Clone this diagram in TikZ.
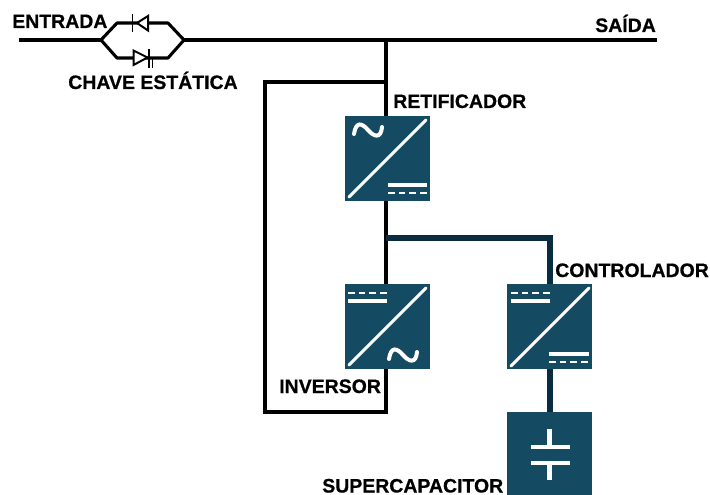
\documentclass[tikz,border=0pt]{standalone}
\usepackage{fontspec}
\setmainfont[BoldFeatures={FakeBold=0.6}]{Liberation Sans}
\definecolor{boxc}{HTML}{154A63}
\definecolor{wirec}{HTML}{0A2C40}
\tikzset{x=0.75pt,y=-0.75pt,
 conv/.style={draw=none,fill=boxc,minimum size=63.75pt,inner sep=0pt,outer sep=0pt},
 wire/.style={line width=3pt,black,line cap=butt,line join=miter},
 twire/.style={line width=3.8pt,wirec},
 switch wire/.style={line width=2.3pt,black,line join=round},
 diodeb/.style={line width=1.5pt,black,fill=white,line join=miter},
 diag/.style={white,line width=2.2pt,line cap=round},
 tilde/.style={white,line width=3pt,line cap=round},
 symf/.style={white,line width=2.6pt},
 symd/.style={white,line width=1.4pt,dash pattern=on 5pt off 3pt},
 capv/.style={white,line width=3.4pt},
 lab/.style={font=\bfseries\fontsize{14.6}{16}\selectfont,inner sep=0pt,anchor=base west,black}}
\begin{document}
\begin{tikzpicture}
\useasboundingbox (0,0) rectangle (710,495);
% converters
\node[conv] (ret) at (387.5,158.5) {};
\node[conv] (inv) at (387.5,326.5) {};
\node[conv] (ctl) at (549.5,326.5) {};
\node[conv,minimum height=62.5pt] (sup) at (549.5,453.5) {};
% junctions
\coordinate (in) at (19,40);
\coordinate (out) at (657,40);
\coordinate (sl) at (101,40);
\coordinate (sr) at (184,40);
\coordinate (tl) at (117,23);
\coordinate (tr) at (168,23);
\coordinate (bl) at (117,58);
\coordinate (br) at (168,58);
\coordinate (top) at (386,40);
\coordinate (loopa) at (386,82);
\coordinate (loopb) at (265,82);
\coordinate (loopc) at (265,412);
\coordinate (loopd) at (386,412);
\coordinate (mid) at (386,238);
\coordinate (midr) at (550,238);
% wires
\draw[wire] (in) -- (sl);
\draw[wire] (sr) -- (out);
\draw[switch wire] (sl) -- (tl) -- (tr) -- (sr) -- (br) -- (bl) -- cycle;
\draw[wire] (top) -- (386,116);
\draw[wire] (386,201) -- (386,284);
\draw[wire] (386,369) -- (loopd) -- (loopc) -- (loopb) -- (loopa);
\draw[twire] (mid) -- (midr) -- (550,284);
\draw[twire,line width=4.3pt] (550,369) -- (550,412);
% static switch
\draw[diodeb] (148,16) -- (148,30.5) -- (137,23) -- cycle;
\draw[line width=1.3pt] (132.5,14) -- (132.5,32);
\draw[diodeb] (133.5,50.5) -- (133.5,65) -- (147.5,57.5) -- cycle;
\draw[line width=1.3pt] (149,49) -- (149,68);
\draw[line width=1.3pt] (152.5,58) -- (152.5,68);
% retificador symbols
\draw[diag] (349,197) -- (426,120);
\draw[tilde] (354,134) .. controls (356,121) and (362,123) .. (368,130) .. controls (374,137) and (381,139) .. (382,127);
\draw[symf] (388,185) -- (427,185);
\draw[symd] (388,193) -- (427,193);
% inversor symbols
\draw[diag] (349,365) -- (426,288);
\draw[tilde] (389,359) .. controls (391,346) and (397,348) .. (403,355) .. controls (409,362) and (416,364) .. (417,352);
\draw[symf] (348,301) -- (387,301);
\draw[symd] (348,293) -- (387,293);
% controlador symbols
\draw[diag] (511,366) -- (589,288);
\draw[symf] (511,301) -- (550,301);
\draw[symd] (511,293) -- (550,293);
\draw[symf] (549,354) -- (589,354);
\draw[symd] (549,362) -- (589,362);
% supercapacitor symbols
\draw[capv] (549.5,429) -- (549.5,447);
\draw[symf] (531,447) -- (570,447);
\draw[symf] (531,463) -- (570,463);
\draw[capv] (549.5,463) -- (549.5,480);
% labels
\node[lab] (lent) at (12,28) {ENTRADA};
\node[lab] (lsai) at (595,32) {SAÍDA};
\node[lab] (lcha) at (68,89) {CHAVE ESTÁTICA};
\node[lab] (lret) at (393,108) {RETIFICADOR};
\node[lab] (lctl) at (555,277) {CONTROLADOR};
\node[lab] (linv) at (279,393) {INVERSOR};
\node[lab] (lsup) at (322,492.5) {SUPERCAPACITOR};
\end{tikzpicture}
\end{document}
